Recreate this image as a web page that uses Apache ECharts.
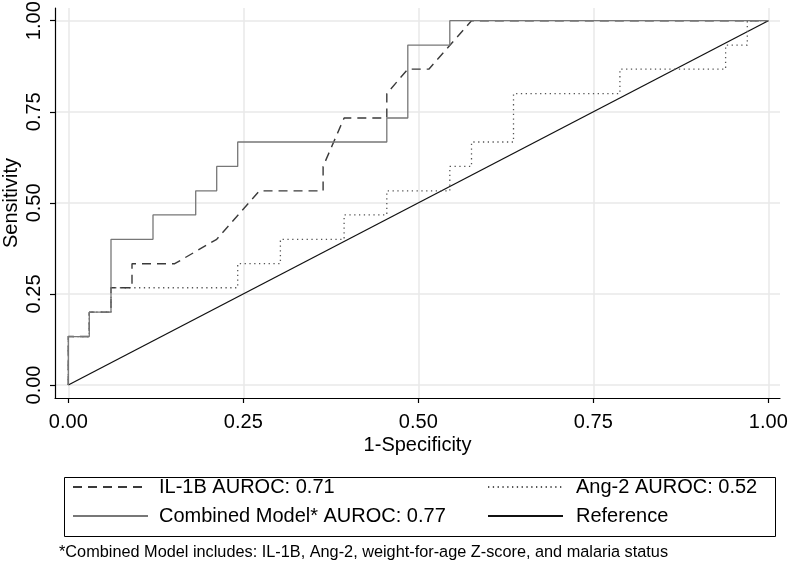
<!DOCTYPE html>
<html>
<head>
<meta charset="utf-8">
<script src="https://cdn.jsdelivr.net/npm/echarts@6/dist/echarts.min.js"></script>
<style>html,body{margin:0;padding:0;background:#fff}#c{width:789px;height:564px}</style>
</head>
<body>
<div id="c"></div>
<script>
// ---- data ----
const tickValues = [0, 0.25, 0.5, 0.75, 1];
const tickLabels = ['0.00', '0.25', '0.50', '0.75', '1.00'];

const seriesNames = ['IL-1B AUROC: 0.71', 'Combined Model* AUROC: 0.77', 'Ang-2 AUROC: 0.52', 'Reference'];

const il1bX = [0, 0, 0.030, 0.030, 0.061, 0.061, 0.091, 0.091, 0.152, 0.212, 0.273, 0.364, 0.364, 0.394, 0.455, 0.455, 0.485, 0.515, 0.576, 1];
const il1bY = [0, 0.133, 0.133, 0.200, 0.200, 0.267, 0.267, 0.333, 0.333, 0.400, 0.533, 0.533, 0.600, 0.733, 0.733, 0.800, 0.867, 0.867, 1, 1];

const combinedX = [0, 0, 0.030, 0.030, 0.061, 0.061, 0.121, 0.121, 0.182, 0.182, 0.212, 0.212, 0.242, 0.242, 0.455, 0.455, 0.485, 0.485, 0.545, 0.545, 1];
const combinedY = [0, 0.133, 0.133, 0.200, 0.200, 0.400, 0.400, 0.467, 0.467, 0.533, 0.533, 0.600, 0.600, 0.667, 0.667, 0.733, 0.733, 0.933, 0.933, 1, 1];

const ang2X = [0, 0, 0.030, 0.030, 0.061, 0.061, 0.242, 0.242, 0.303, 0.303, 0.394, 0.394, 0.455, 0.455, 0.545, 0.545, 0.576, 0.576, 0.636, 0.636, 0.788, 0.788, 0.939, 0.939, 0.970, 0.970, 1];
const ang2Y = [0, 0.133, 0.133, 0.200, 0.200, 0.267, 0.267, 0.333, 0.333, 0.400, 0.400, 0.467, 0.467, 0.533, 0.533, 0.600, 0.600, 0.667, 0.667, 0.800, 0.800, 0.867, 0.867, 0.933, 0.933, 1, 1];

const refX = [0, 1];
const refY = [0, 1];

const footnote = '*Combined Model includes: IL-1B, Ang-2, weight-for-age Z-score, and malaria status';

// ---- build ----
const pairs = (xs, ys) => xs.map((x, i) => [x, ys[i]]);
const FONT = "'Liberation Sans', Arial, Helvetica, sans-serif";
const chart = echarts.init(document.getElementById('c'), null, {renderer: 'canvas'});

const labelFmt = v => {
  const i = tickValues.findIndex(t => Math.abs(t - v) < 1e-9);
  return i >= 0 ? tickLabels[i] : '';
};

const lineSeries = (name, xs, ys, color, type, width, z) => ({
  name, type: 'line', data: pairs(xs, ys), symbol: 'none', showSymbol: false,
  lineStyle: {color, width, type}, itemStyle: {color}, z, animation: false
});

const legendCommon = {
  orient: 'vertical', top: 477, itemWidth: 75, itemHeight: 14, itemGap: 9, padding: 0,
  itemStyle: {color: 'rgba(0,0,0,0)', borderWidth: 0, opacity: 0},
  selectedMode: false
};

chart.setOption({
  animation: false,
  backgroundColor: '#fff',
  grid: {left: 55, right: 9, top: 8, bottom: 166, containLabel: false, outerBoundsMode: 'none'},
  xAxis: {
    type: 'value', min: -0.019, max: 1.0167,
    name: '1-Specificity', nameLocation: 'middle', nameGap: 37, nameMoveOverlap: false,
    nameTextStyle: {fontFamily: FONT, fontSize: 20, color: '#000'},
    axisLine: {show: true, onZero: false, lineStyle: {color: '#000', width: 1.2}},
    axisTick: {show: true, length: 5, customValues: tickValues, lineStyle: {color: '#000', width: 1.2}},
    axisLabel: {customValues: tickValues, formatter: labelFmt, fontFamily: FONT, fontSize: 20, color: '#000', margin: 14},
    splitLine: {show: true, customValues: tickValues, lineStyle: {color: '#e8e8e8', width: 1.5}}
  },
  yAxis: {
    type: 'value', min: -0.0357, max: 1.0349,
    name: 'Sensitivity', nameLocation: 'middle', nameGap: 34, nameMoveOverlap: false,
    nameTextStyle: {fontFamily: FONT, fontSize: 20, color: '#000'},
    axisLine: {show: true, onZero: false, lineStyle: {color: '#000', width: 1.2}},
    axisTick: {show: true, length: 5, customValues: tickValues, lineStyle: {color: '#000', width: 1.2}},
    axisLabel: {customValues: tickValues, formatter: labelFmt, rotate: 90, fontFamily: FONT, fontSize: 20, color: '#000', margin: 11},
    splitLine: {show: true, customValues: tickValues, lineStyle: {color: '#e8e8e8', width: 1.5}}
  },
  legend: [
    Object.assign({}, legendCommon, {
      data: [seriesNames[0], seriesNames[1]], left: 72,
      textStyle: {fontFamily: FONT, fontSize: 20, color: '#000', padding: [0, 0, 0, 6]}
    }),
    Object.assign({}, legendCommon, {
      data: [seriesNames[2], seriesNames[3]], left: 487,
      textStyle: {fontFamily: FONT, fontSize: 20, color: '#000', padding: [0, 0, 0, 8]}
    })
  ],
  graphic: [
    {type: 'rect', left: 62, top: 475, shape: {width: 711, height: 59}, style: {fill: 'none', stroke: '#000', lineWidth: 1}, silent: true},
    {type: 'text', left: 59, top: 545, style: {text: footnote, fontFamily: FONT, fontSize: 16.3, fill: '#000'}}
  ],
  series: [
    lineSeries(seriesNames[3], refX, refY, '#111111', 'solid', 1.3, 2),
    lineSeries(seriesNames[2], ang2X, ang2Y, '#555555', [1.3, 3.5], 1.3, 3),
    lineSeries(seriesNames[0], il1bX, il1bY, '#3a3a3a', [9, 6], 1.4, 4),
    lineSeries(seriesNames[1], combinedX, combinedY, '#777777', 'solid', 1.3, 5)
  ]
});
</script>
</body>
</html>
